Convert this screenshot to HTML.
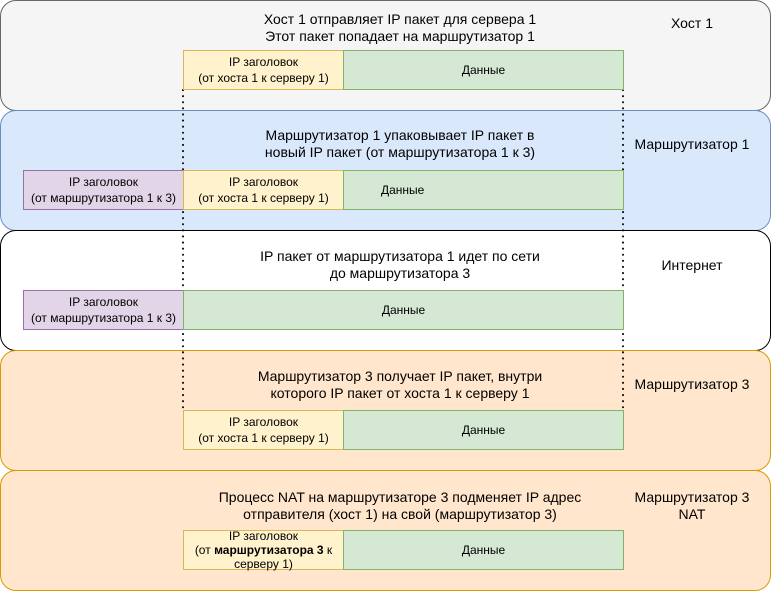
<!DOCTYPE html>
<html><head><meta charset="utf-8"><style>
body{margin:0;width:771px;height:591px;background:#fff;font-family:"Liberation Sans",Arial,sans-serif;font-size:14px;color:#000;position:relative;overflow:hidden}
.band{position:absolute;left:0;width:769px;border-radius:16px;border:1px solid}
.t{position:absolute;text-align:center;line-height:17px;font-size:14px}
.b{position:absolute;box-sizing:border-box;border:1px solid;display:flex;align-items:center;justify-content:center;text-align:center;line-height:16px;font-size:12px}
.y{background:#fff2cc;border-color:#d6b656}
.g{background:#d5e8d4;border-color:#82b366}
.p{background:#e1d5e7;border-color:#9673a6}
svg{position:absolute;left:0;top:0}
</style></head><body>
<div class="band" style="top:0;height:109px;background:#f5f5f5;border-color:#666"></div>
<div class="band" style="top:110px;height:119px;background:#dae8fc;border-color:#6c8ebf"></div>
<div class="band" style="top:230px;height:119px;background:#fff;border-color:#000"></div>
<div class="band" style="top:350px;height:119px;background:#ffe6cc;border-color:#d79b00"></div>
<div class="band" style="top:470px;height:119px;background:#ffe6cc;border-color:#d79b00"></div>
<svg width="771" height="591"><g stroke="#000" stroke-width="2" stroke-dasharray="0.1 6" stroke-linecap="round"><line x1="183" y1="90" x2="183" y2="410"/><line x1="623" y1="90" x2="623" y2="410"/></g></svg>

<div class="t" style="left:160px;width:480px;top:11px">Хост 1 отправляет IP пакет для сервера 1<br>Этот пакет попадает на маршрутизатор 1</div>
<div class="t" style="left:627px;width:130px;top:15px">Хост 1</div>
<div class="b y" style="left:183px;top:50px;width:161px;height:40px"><span>IP заголовок<br>(от хоста 1 к серверу 1)</span></div>
<div class="b g" style="left:343px;top:50px;width:281px;height:40px"><span>Данные</span></div>

<div class="t" style="left:160px;width:480px;top:127px">Маршрутизатор 1 упаковывает IP пакет в<br>новый IP пакет (от маршрутизатора 1 к 3)</div>
<div class="t" style="left:627px;width:130px;top:136px">Маршрутизатор 1</div>
<div class="b p" style="left:23px;top:170px;width:161px;height:40px"><span>IP заголовок<br>(от маршрутизатора 1 к 3)</span></div>
<div class="b y" style="left:183px;top:170px;width:161px;height:40px"><span>IP заголовок<br>(от хоста 1 к серверу 1)</span></div>
<div class="b g" style="left:343px;top:170px;width:281px;height:40px;justify-content:flex-start;padding-left:37px"><span>Данные</span></div>

<div class="t" style="left:160px;width:480px;top:248px">IP пакет от маршрутизатора 1 идет по сети<br>до маршрутизатора 3</div>
<div class="t" style="left:627px;width:130px;top:257px">Интернет</div>
<div class="b p" style="left:23px;top:290px;width:161px;height:40px"><span>IP заголовок<br>(от маршрутизатора 1 к 3)</span></div>
<div class="b g" style="left:183px;top:290px;width:441px;height:40px"><span>Данные</span></div>

<div class="t" style="left:160px;width:480px;top:368px">Маршрутизатор 3 получает IP пакет, внутри<br>которого IP пакет от хоста 1 к серверу 1</div>
<div class="t" style="left:627px;width:130px;top:376px">Маршрутизатор 3</div>
<div class="b y" style="left:183px;top:410px;width:161px;height:40px"><span>IP заголовок<br>(от хоста 1 к серверу 1)</span></div>
<div class="b g" style="left:343px;top:410px;width:281px;height:40px"><span>Данные</span></div>

<div class="t" style="left:160px;width:480px;top:489px">Процесс NAT на маршрутизаторе 3 подменяет IP адрес<br>отправителя (хост 1) на свой (маршрутизатор 3)</div>
<div class="t" style="left:627px;width:130px;top:489px">Маршрутизатор 3<br>NAT</div>
<div class="b y" style="left:183px;top:530px;width:161px;height:40px;line-height:14px"><span>IP заголовок<br>(от <b>маршрутизатора 3</b> к<br>серверу 1)</span></div>
<div class="b g" style="left:343px;top:530px;width:281px;height:40px"><span>Данные</span></div>
</body></html>
